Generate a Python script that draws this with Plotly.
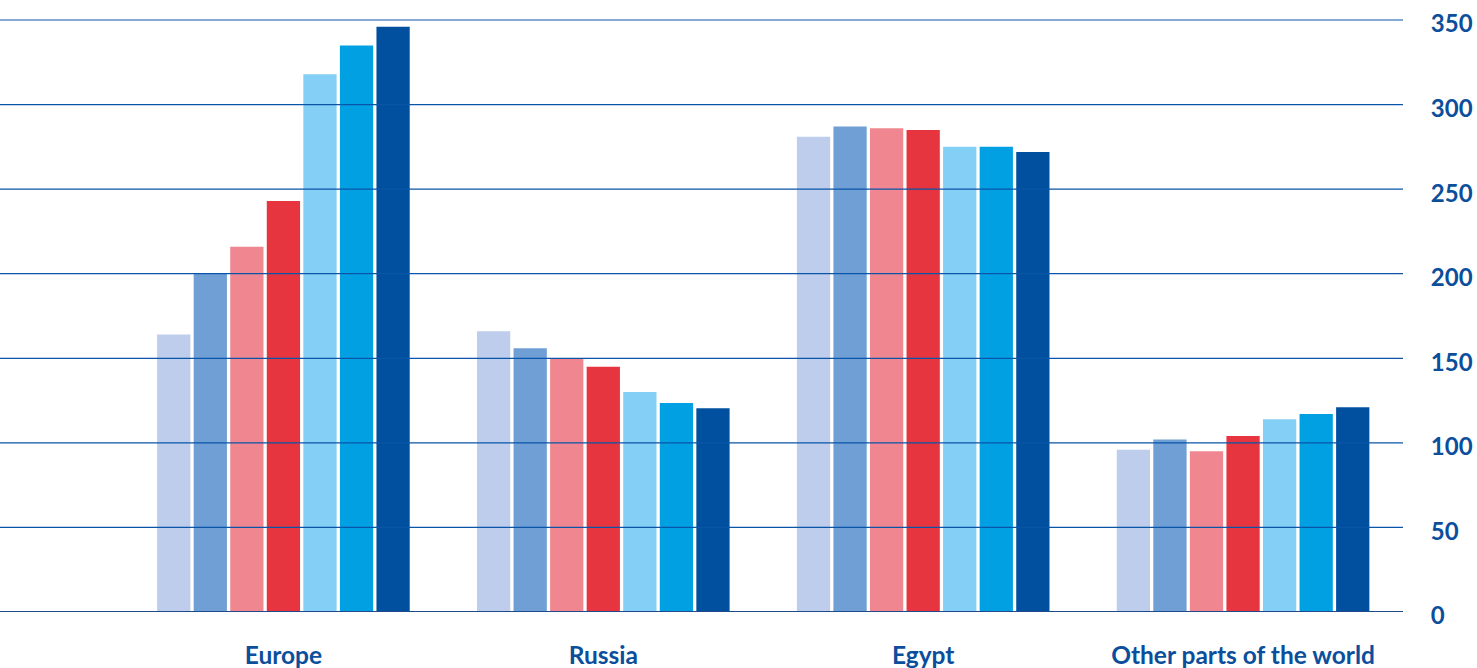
import plotly.graph_objects as go

categories = ["Europe", "Russia", "Egypt", "Other parts of the world"]
series_names = ["S1", "S2", "S3", "S4", "S5", "S6", "S7"]
colors = ["#BDCDEB", "#6F9FD4", "#F08790", "#E73540", "#84CFF5", "#00A0E3", "#00509F"]
values = [
    [164, 166, 281, 96],
    [200, 156, 287, 102],
    [216, 150, 286, 95],
    [243, 145, 285, 104],
    [318, 130, 275, 114],
    [335, 123.5, 275, 117],
    [346, 120.5, 272, 121],
]
y_ticks = [0, 50, 100, 150, 200, 250, 300, 350]

text_color = "#0B4F9C"

fig = go.Figure()
for name, col, vals in zip(series_names, colors, values):
    fig.add_trace(go.Bar(x=categories, y=vals, name=name, marker=dict(color=col, line=dict(width=0))))

# gridlines drawn above the bars, as in the reference
for t in y_ticks:
    if t == 0:
        line = dict(color="#1F4A8C", width=2)
    else:
        line = dict(color="#0A55A8", width=1.2)
    fig.add_shape(type="line", xref="paper", yref="y", x0=0, x1=1, y0=t, y1=t,
                  line=line, layer="above")

fig.update_layout(
    width=1477, height=668,
    margin=dict(l=0, r=74, t=19, b=56),
    paper_bgcolor="white", plot_bgcolor="white",
    barmode="group", bargap=0.2, bargroupgap=0.09,
    showlegend=False,
    font=dict(family="Lato, sans-serif", color=text_color),
    xaxis=dict(
        type="category", range=[-0.886, 3.5],
        showgrid=False, zeroline=False, showline=False,
        ticks="outside", ticklen=22, tickcolor="rgba(0,0,0,0)",
        automargin=False,
        tickfont=dict(family="Lato", size=24.5, color=text_color, weight="bold"),
    ),
    yaxis=dict(
        side="right", range=[0, 350.6], tickvals=y_ticks,
        showgrid=False, zeroline=False,
        showline=False, automargin=False,
        ticks="outside", ticklen=22, tickcolor="rgba(0,0,0,0)",
        ticklabelshift=4,
        tickfont=dict(family="Lato", size=24, color=text_color, weight="bold"),
    ),
)

fig.write_html("out.html", config={"displayModeBar": False},
               post_script="document.body.style.margin='0';")
